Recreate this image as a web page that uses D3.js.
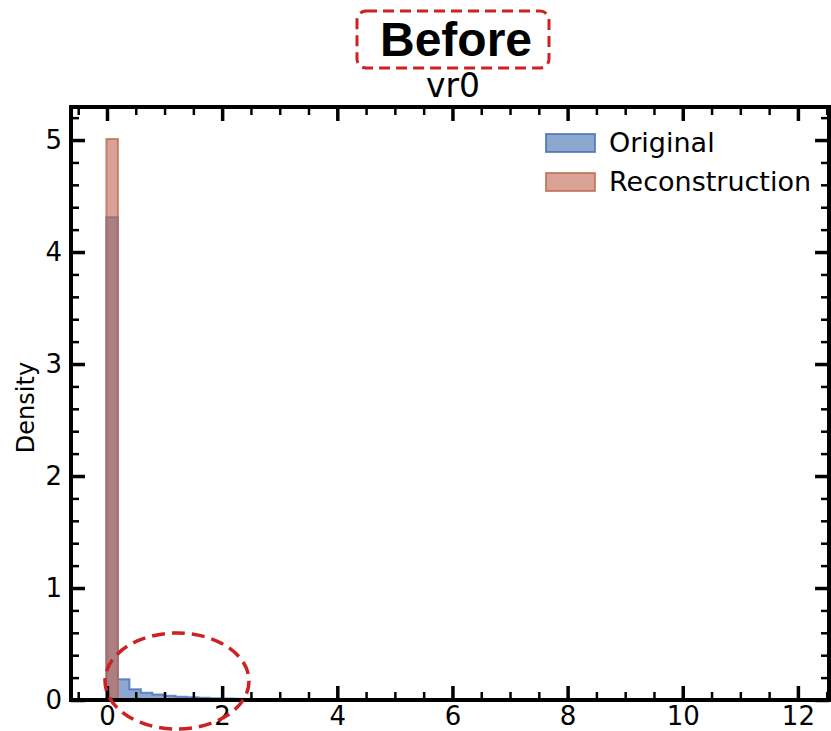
<!DOCTYPE html>
<html>
<head>
<meta charset="utf-8">
<script src="https://cdn.jsdelivr.net/npm/d3@7"></script>
<style>
  html, body { margin: 0; padding: 0; background: #fff; }
  svg { display: block; font-family: "DejaVu Sans", sans-serif; }
</style>
</head>
<body>
<svg id="chart" width="831" height="731"></svg>
<script>
// Histogram bins: shared start and width
const binStart = -0.01;
const binWidth = 0.2;

// Density per bin, original values
const originalDensity = [4.31, 0.185, 0.096, 0.065, 0.05, 0.038, 0.03, 0.025, 0.02, 0.016,
  0.013, 0.011, 0.009, 0.007, 0.006, 0.005, 0.004, 0.003, 0.003, 0.002];
// Density per bin, reconstruction values
const reconDensity = [5.01];

const xTicks = [0, 2, 4, 6, 8, 10, 12];
const yTicks = [0, 1, 2, 3, 4, 5];
const xDomain = [-0.625, 12.54];
const yDomain = [0, 5.295];

const legendLabels = ["Original", "Reconstruction"];
const titleText = "Before";
const subtitleText = "vr0";
const yLabelText = "Density";

const colors = {
  original: { fill: "rgba(63,108,177,0.6)", stroke: "rgba(63,108,177,0.75)" },
  recon: { fill: "rgba(190,102,80,0.6)", stroke: "rgba(190,102,80,0.75)" }
};
const accent = "#cc2222";

const svg = d3.select("#chart");
const plot = { left: 71, right: 829, top: 107, bottom: 700 };

const x = d3.scaleLinear().domain(xDomain).range([plot.left, plot.right]);
const y = d3.scaleLinear().domain(yDomain).range([plot.bottom, plot.top]);

// Step outline for a histogram (stepfilled style)
function stepPoints(values) {
  const pts = [[binStart, 0]];
  values.forEach((v, i) => {
    const x0 = binStart + i * binWidth;
    pts.push([x0, v], [x0 + binWidth, v]);
  });
  pts.push([binStart + values.length * binWidth, 0]);
  return pts;
}
const line = d3.line().x(d => x(d[0])).y(d => y(d[1]));

const hist = svg.append("g");
[[originalDensity, colors.original], [reconDensity, colors.recon]].forEach(([vals, c]) => {
  hist.append("path")
    .attr("d", line(stepPoints(vals)) + "Z")
    .attr("fill", c.fill)
    .attr("stroke", c.stroke)
    .attr("stroke-width", 2)
    .attr("stroke-linejoin", "miter");
});

// Axes: inward ticks on all four sides
const minorX = d3.range(-0.5, 12.51, 0.5).filter(v => Math.abs(v / 2 - Math.round(v / 2)) > 1e-6);
const minorY = d3.range(0, 5.21, 0.2).filter(v => Math.abs(v - Math.round(v)) > 1e-6);
const majLen = 14, minLen = 8;

function styleAxis(g, width) {
  g.select(".domain").remove();
  g.selectAll(".tick line").attr("stroke", "#000").attr("stroke-width", width);
  g.selectAll(".tick text").attr("fill", "#000").attr("font-size", 26)
    .attr("font-family", "DejaVu Sans, sans-serif");
}

// bottom
svg.append("g").attr("transform", `translate(0,${plot.bottom})`)
  .call(d3.axisBottom(x).tickValues(xTicks).tickSize(-majLen).tickPadding(7).tickFormat(d3.format("d")))
  .call(g => styleAxis(g, 3.5));
svg.append("g").attr("transform", `translate(0,${plot.bottom})`)
  .call(d3.axisBottom(x).tickValues(minorX).tickSize(-minLen).tickFormat(""))
  .call(g => styleAxis(g, 2.5));
// top
svg.append("g").attr("transform", `translate(0,${plot.top})`)
  .call(d3.axisTop(x).tickValues(xTicks).tickSize(-majLen).tickFormat(""))
  .call(g => styleAxis(g, 3.5));
svg.append("g").attr("transform", `translate(0,${plot.top})`)
  .call(d3.axisTop(x).tickValues(minorX).tickSize(-minLen).tickFormat(""))
  .call(g => styleAxis(g, 2.5));
// left
svg.append("g").attr("transform", `translate(${plot.left},0)`)
  .call(d3.axisLeft(y).tickValues(yTicks).tickSize(-majLen).tickPadding(9).tickFormat(d3.format("d")))
  .call(g => styleAxis(g, 3.5));
svg.append("g").attr("transform", `translate(${plot.left},0)`)
  .call(d3.axisLeft(y).tickValues(minorY).tickSize(-minLen).tickFormat(""))
  .call(g => styleAxis(g, 2.5));
// right
svg.append("g").attr("transform", `translate(${plot.right},0)`)
  .call(d3.axisRight(y).tickValues(yTicks).tickSize(-majLen).tickFormat(""))
  .call(g => styleAxis(g, 3.5));
svg.append("g").attr("transform", `translate(${plot.right},0)`)
  .call(d3.axisRight(y).tickValues(minorY).tickSize(-minLen).tickFormat(""))
  .call(g => styleAxis(g, 2.5));

// frame
svg.append("rect")
  .attr("x", plot.left).attr("y", plot.top)
  .attr("width", plot.right - plot.left).attr("height", plot.bottom - plot.top)
  .attr("fill", "none").attr("stroke", "#000").attr("stroke-width", 4);

// y label
svg.append("text")
  .attr("transform", `translate(34,${(plot.top + plot.bottom) / 2 + 4}) rotate(-90)`)
  .attr("text-anchor", "middle")
  .attr("font-size", 24)
  .text(yLabelText);

// subtitle
svg.append("text")
  .attr("x", (plot.left + plot.right) / 2 + 3).attr("y", 97)
  .attr("text-anchor", "middle")
  .attr("font-size", 33)
  .text(subtitleText);

// legend
const legend = svg.append("g").attr("transform", "translate(545,133)");
[colors.original, colors.recon].forEach((c, i) => {
  const row = legend.append("g").attr("transform", `translate(0,${i * 39})`);
  row.append("rect").attr("x", 1).attr("y", 1).attr("width", 49).attr("height", 18)
    .attr("fill", c.fill).attr("stroke", c.stroke).attr("stroke-width", 2);
  row.append("text").attr("x", 64).attr("y", 19)
    .attr("font-size", 27).text(legendLabels[i]);
});

// emphasis: title badge and dashed ellipse
const title = svg.append("g");
title.append("rect")
  .attr("x", 357).attr("y", 11).attr("width", 192).attr("height", 57)
  .attr("rx", 9)
  .attr("fill", "#fff").attr("stroke", accent).attr("stroke-width", 3)
  .attr("stroke-dasharray", "11,6");
title.append("text")
  .attr("x", 456).attr("y", 56)
  .attr("text-anchor", "middle")
  .attr("font-family", "Liberation Sans, Arial, sans-serif")
  .attr("font-weight", "bold").attr("font-size", 48)
  .text(titleText);

svg.append("ellipse")
  .attr("cx", 177).attr("cy", 681).attr("rx", 72).attr("ry", 48)
  .attr("fill", "none").attr("stroke", accent).attr("stroke-width", 3.5)
  .attr("stroke-dasharray", "13,7");
</script>
</body>
</html>
